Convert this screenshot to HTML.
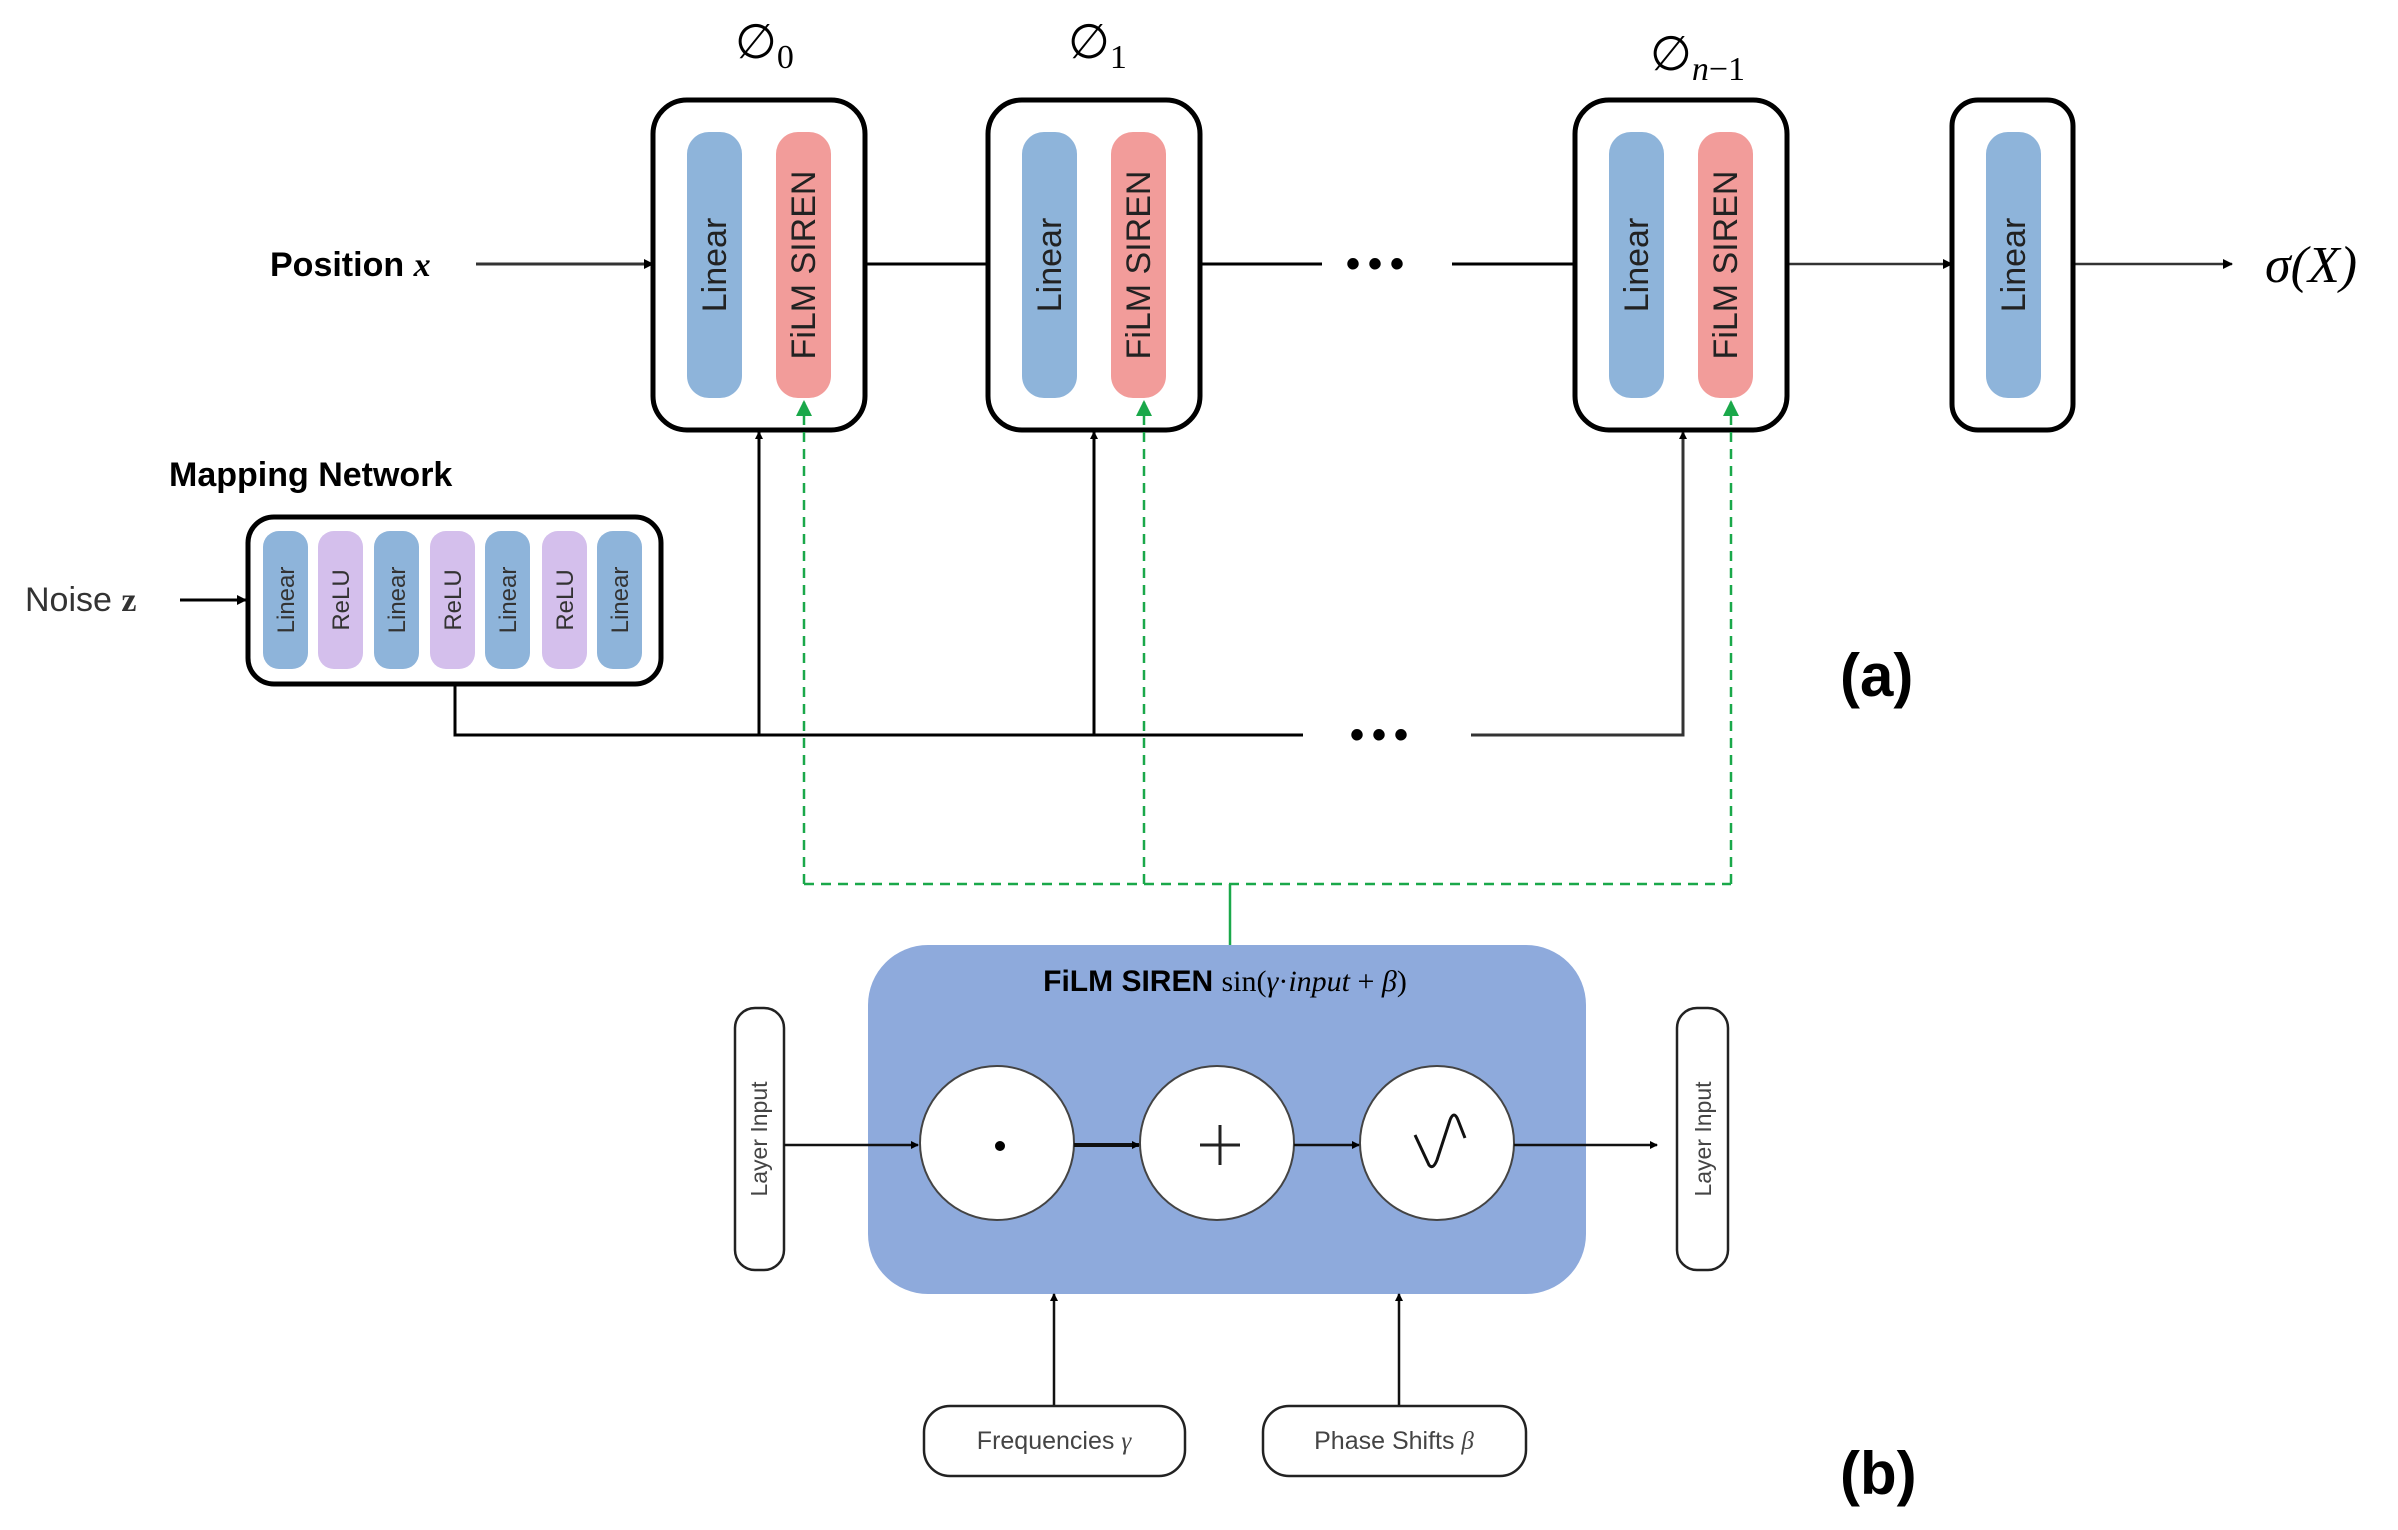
<!DOCTYPE html>
<html><head><meta charset="utf-8"><style>html,body{margin:0;padding:0;background:#fff}svg{display:block}</style></head>
<body>
<svg width="2398" height="1530" viewBox="0 0 2398 1530" xmlns="http://www.w3.org/2000/svg" font-family="Liberation Sans, DejaVu Sans, sans-serif">
<defs>
<marker id="ah" markerWidth="10" markerHeight="10" refX="9" refY="5" orient="auto" markerUnits="userSpaceOnUse"><path d="M0,0 L10,5 L0,10 z" fill="#000"/></marker>
<marker id="ahs" markerWidth="8" markerHeight="8" refX="7" refY="4" orient="auto" markerUnits="userSpaceOnUse"><path d="M0,0 L8,4 L0,8 z" fill="#000"/></marker>
<marker id="ag" markerWidth="16" markerHeight="16" refX="14" refY="8" orient="auto" markerUnits="userSpaceOnUse"><path d="M0,0 L16,8 L0,16 z" fill="#1aa84a"/></marker>
</defs>

<!-- phi labels -->
<text x="735" y="58" font-family="Liberation Serif, serif" font-size="48">∅<tspan font-size="34" dy="10">0</tspan></text>
<text x="1068" y="58" font-family="Liberation Serif, serif" font-size="48">∅<tspan font-size="34" dy="10">1</tspan></text>
<text x="1650" y="70" font-family="Liberation Serif, serif" font-size="48">∅<tspan font-size="34" dy="10" font-style="italic">n</tspan><tspan font-size="34">−1</tspan></text>

<!-- top lines -->
<text x="270" y="276" font-size="34" font-weight="bold">Position <tspan font-family="Liberation Serif, serif" font-style="italic">x</tspan></text>
<line x1="476" y1="264" x2="653" y2="264" stroke="#333" stroke-width="3" marker-end="url(#ah)"/>
<line x1="865" y1="264" x2="988" y2="264" stroke="#000" stroke-width="3"/>
<line x1="1200" y1="264" x2="1322" y2="264" stroke="#000" stroke-width="3"/>
<text x="1346" y="277" font-size="40" font-weight="bold" letter-spacing="8">•••</text>
<line x1="1452" y1="264" x2="1575" y2="264" stroke="#000" stroke-width="3"/>
<line x1="1787" y1="264" x2="1952" y2="264" stroke="#333" stroke-width="2.5" marker-end="url(#ah)"/>
<line x1="2073" y1="264" x2="2232" y2="264" stroke="#333" stroke-width="2.5" marker-end="url(#ah)"/>
<text x="2265" y="282" font-family="Liberation Serif, serif" font-style="italic" font-size="52">σ(X)</text>

<!-- blocks -->
<g stroke="#000" stroke-width="5" fill="#fff">
<rect x="653" y="100" width="212" height="330" rx="34"/>
<rect x="988" y="100" width="212" height="330" rx="34"/>
<rect x="1575" y="100" width="212" height="330" rx="34"/>
<rect x="1952" y="100" width="121" height="330" rx="26"/>
</g>
<g>
<rect x="687" y="132" width="55" height="266" rx="22" fill="#8eb4da"/>
<rect x="776" y="132" width="55" height="266" rx="22" fill="#f29c9a"/>
<rect x="1022" y="132" width="55" height="266" rx="22" fill="#8eb4da"/>
<rect x="1111" y="132" width="55" height="266" rx="22" fill="#f29c9a"/>
<rect x="1609" y="132" width="55" height="266" rx="22" fill="#8eb4da"/>
<rect x="1698" y="132" width="55" height="266" rx="22" fill="#f29c9a"/>
<rect x="1986" y="132" width="55" height="266" rx="22" fill="#8eb4da"/>
</g>
<g font-size="34" fill="#222" text-anchor="middle">
<text transform="translate(726,265) rotate(-90)">Linear</text>
<text transform="translate(815,265) rotate(-90)">FiLM SIREN</text>
<text transform="translate(1061,265) rotate(-90)">Linear</text>
<text transform="translate(1150,265) rotate(-90)">FiLM SIREN</text>
<text transform="translate(1648,265) rotate(-90)">Linear</text>
<text transform="translate(1737,265) rotate(-90)">FiLM SIREN</text>
<text transform="translate(2025,265) rotate(-90)">Linear</text>
</g>

<!-- mapping network -->
<text x="169" y="486" font-size="34" font-weight="bold">Mapping Network</text>
<text x="25" y="611" font-size="34" fill="#333">Noise <tspan font-family="Liberation Serif, serif" font-weight="bold">z</tspan></text>
<line x1="180" y1="600" x2="246" y2="600" stroke="#000" stroke-width="3" marker-end="url(#ah)"/>
<rect x="248" y="517" width="413" height="167" rx="26" fill="#fff" stroke="#000" stroke-width="5"/>
<g>
<rect x="263" y="531" width="45" height="138" rx="16" fill="#8eb4da"/>
<rect x="318" y="531" width="45" height="138" rx="16" fill="#d4bfec"/>
<rect x="374" y="531" width="45" height="138" rx="16" fill="#8eb4da"/>
<rect x="430" y="531" width="45" height="138" rx="16" fill="#d4bfec"/>
<rect x="485" y="531" width="45" height="138" rx="16" fill="#8eb4da"/>
<rect x="542" y="531" width="45" height="138" rx="16" fill="#d4bfec"/>
<rect x="597" y="531" width="45" height="138" rx="16" fill="#8eb4da"/>
</g>
<g font-size="24" fill="#333" text-anchor="middle">
<text transform="translate(294,600) rotate(-90)">Linear</text>
<text transform="translate(349,600) rotate(-90)">ReLU</text>
<text transform="translate(405,600) rotate(-90)">Linear</text>
<text transform="translate(461,600) rotate(-90)">ReLU</text>
<text transform="translate(516,600) rotate(-90)">Linear</text>
<text transform="translate(573,600) rotate(-90)">ReLU</text>
<text transform="translate(628,600) rotate(-90)">Linear</text>
</g>

<!-- bottom black lines -->
<polyline points="455,686 455,735 1303,735" fill="none" stroke="#000" stroke-width="3"/>
<text x="1350" y="748" font-size="40" font-weight="bold" letter-spacing="8">•••</text>
<polyline points="1471,735 1683,735 1683,432" fill="none" stroke="#333" stroke-width="3" marker-end="url(#ahs)"/>
<line x1="759" y1="735" x2="759" y2="432" stroke="#000" stroke-width="3" marker-end="url(#ahs)"/>
<line x1="1094" y1="735" x2="1094" y2="432" stroke="#000" stroke-width="3" marker-end="url(#ahs)"/>

<!-- green dashed -->
<g stroke="#1aa84a" stroke-width="2.5" fill="none" stroke-dasharray="10,7">
<line x1="804" y1="884" x2="804" y2="402" marker-end="url(#ag)"/>
<line x1="1144" y1="884" x2="1144" y2="402" marker-end="url(#ag)"/>
<line x1="1731" y1="884" x2="1731" y2="402" marker-end="url(#ag)"/>
<line x1="804" y1="884" x2="1731" y2="884"/>
</g>
<line x1="1230" y1="884" x2="1230" y2="945" stroke="#1aa84a" stroke-width="2.5"/>

<!-- (a) (b) -->
<text x="1840" y="696" font-size="60" font-weight="bold">(a)</text>
<text x="1840" y="1494" font-size="60" font-weight="bold">(b)</text>

<!-- FiLM SIREN box -->
<rect x="868" y="945" width="718" height="349" rx="60" fill="#8eaadc"/>
<text x="1225" y="991" font-size="30" text-anchor="middle"><tspan font-weight="bold">FiLM SIREN </tspan><tspan font-family="Liberation Serif, serif">sin(<tspan font-style="italic">γ</tspan>·<tspan font-style="italic">input</tspan> + <tspan font-style="italic">β</tspan>)</tspan></text>

<g fill="#fff" stroke="#444" stroke-width="2">
<ellipse cx="997" cy="1143" rx="77" ry="77"/>
<ellipse cx="1217" cy="1143" rx="77" ry="77"/>
<ellipse cx="1437" cy="1143" rx="77" ry="77"/>
</g>
<circle cx="1000" cy="1146" r="5" fill="#000"/>
<path d="M1220,1125 V1165 M1200,1145 H1240" stroke="#222" stroke-width="3"/>
<path d="M1415,1165 L1429,1195 Q1433,1200 1437,1190 L1450,1150 Q1454,1140 1458,1150 L1465,1168" fill="none" stroke="#111" stroke-width="3" transform="translate(0,-30)"/>

<rect x="735" y="1008" width="49" height="262" rx="20" fill="#fff" stroke="#222" stroke-width="2.5"/>
<rect x="1677" y="1008" width="51" height="262" rx="20" fill="#fff" stroke="#222" stroke-width="2.5"/>
<g font-size="23" fill="#444" text-anchor="middle">
<text transform="translate(767,1139) rotate(-90)">Layer Input</text>
<text transform="translate(1711,1139) rotate(-90)">Layer Input</text>
</g>
<g stroke="#111" stroke-width="2.5">
<line x1="784" y1="1145" x2="918" y2="1145" marker-end="url(#ahs)"/>
<line x1="1074" y1="1145" x2="1139" y2="1145" stroke-width="4" marker-end="url(#ahs)"/>
<line x1="1294" y1="1145" x2="1359" y2="1145" marker-end="url(#ahs)"/>
<line x1="1514" y1="1145" x2="1657" y2="1145" marker-end="url(#ahs)"/>
<line x1="1054" y1="1406" x2="1054" y2="1294" marker-end="url(#ahs)"/>
<line x1="1399" y1="1406" x2="1399" y2="1294" marker-end="url(#ahs)"/>
</g>
<rect x="924" y="1406" width="261" height="70" rx="26" fill="#fff" stroke="#222" stroke-width="2.5"/>
<rect x="1263" y="1406" width="263" height="70" rx="26" fill="#fff" stroke="#222" stroke-width="2.5"/>
<text x="1054" y="1449" font-size="25" fill="#444" text-anchor="middle">Frequencies <tspan font-family="Liberation Serif, serif" font-style="italic">γ</tspan></text>
<text x="1394" y="1449" font-size="25" fill="#444" text-anchor="middle">Phase Shifts <tspan font-family="Liberation Serif, serif" font-style="italic">β</tspan></text>
</svg>
</body></html>
